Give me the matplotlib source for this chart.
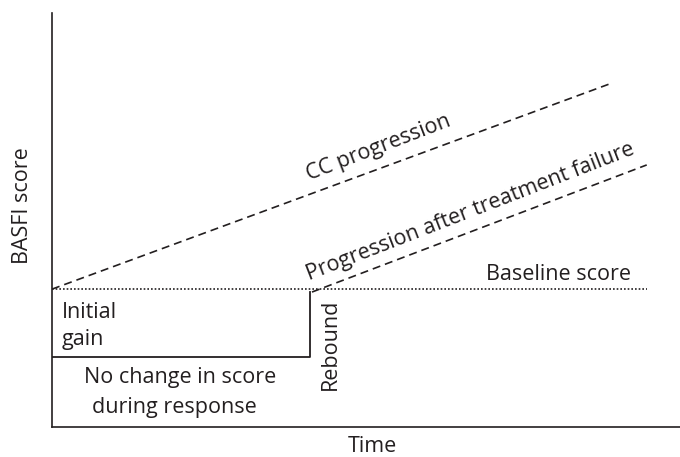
import matplotlib
matplotlib.use("Agg")
import matplotlib.pyplot as plt

plt.rcParams['font.family'] = ['Open Sans', 'DejaVu Sans']

# Data (time units 0-100, score units 0-100)
baseline_x = [0, 94.7]
baseline_y = [33.3, 33.3]
response_x = [0, 41.1, 41.1]
response_y = [16.9, 16.9, 32.6]
cc_x = [0, 89.2]
cc_y = [33.3, 83.1]
failure_x = [41.4, 94.7]
failure_y = [32.6, 63.3]

W, H = 680, 457
fig = plt.figure(figsize=(W / 100, H / 100), dpi=100)
ax = fig.add_axes([52 / W, 1 - 427 / H, 1 - 52 / W, (427 - 13) / H])
ax.set_xlim(0, 100)
ax.set_ylim(0, 100)
for s in ['top', 'right']:
    ax.spines[s].set_visible(False)
for s in ['left', 'bottom']:
    ax.spines[s].set_linewidth(1.2)
    ax.spines[s].set_color('#231f20')
ax.set_xticks([])
ax.set_yticks([])

c = '#231f20'
ax.plot(baseline_x, baseline_y, color=c, lw=1.2, linestyle=(0, (1, 1.2)))
ax.plot(response_x, response_y, color=c, lw=1.3)
ax.plot(cc_x, cc_y, color=c, lw=1.2, linestyle=(0, (4.8, 3)))
ax.plot(failure_x, failure_y, color=c, lw=1.2, linestyle=(0, (4.8, 3)))

fs = 15.5


def label(px, py, s, **kw):
    kw.setdefault('ha', 'center')
    kw.setdefault('va', 'center')
    fig.text(px / W, 1 - py / H, s, fontsize=fs, color=c, **kw)


label(62, 313, 'Initial', ha='left')
label(62, 340, 'gain', ha='left')
label(180, 378, 'No change in score')
label(174, 407, 'during response')
label(330, 344, 'Rebound', rotation=90)
label(558, 275, 'Baseline score')
label(379, 148, 'CC progression', rotation=21)
label(470, 212, 'Progression after treatment failure', rotation=21.2)
label(22, 206, 'BASFI score', rotation=90)
label(372, 447, 'Time')

fig.savefig('out.png', dpi=100)
